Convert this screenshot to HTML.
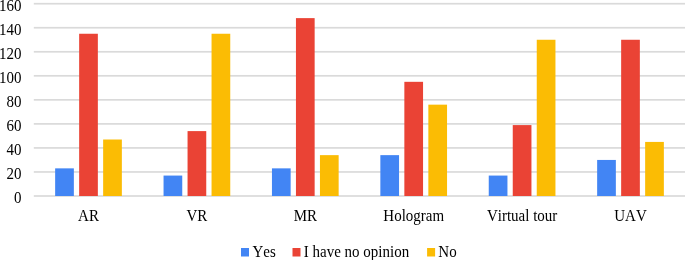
<!DOCTYPE html>
<html><head><meta charset="utf-8"><style>
html,body{margin:0;padding:0;background:#fff;width:685px;height:260px;overflow:hidden}
svg{display:block;will-change:transform}
text{font-family:"Liberation Serif",serif;font-size:15px;fill:#000;font-kerning:none}
</style></head><body>
<svg width="685" height="260" viewBox="0 0 685 260">
<rect x="33.80" y="2.85" width="651.20" height="1.7" fill="#dadada"/>
<text transform="translate(21.60,11.00) scale(1,1.15)" text-anchor="end">160</text>
<rect x="33.80" y="26.89" width="651.20" height="1.7" fill="#dadada"/>
<text transform="translate(21.60,35.04) scale(1,1.15)" text-anchor="end">140</text>
<rect x="33.80" y="50.93" width="651.20" height="1.7" fill="#dadada"/>
<text transform="translate(21.60,59.08) scale(1,1.15)" text-anchor="end">120</text>
<rect x="33.80" y="74.96" width="651.20" height="1.7" fill="#dadada"/>
<text transform="translate(21.60,83.11) scale(1,1.15)" text-anchor="end">100</text>
<rect x="33.80" y="99.00" width="651.20" height="1.7" fill="#dadada"/>
<text transform="translate(21.60,107.15) scale(1,1.15)" text-anchor="end">80</text>
<rect x="33.80" y="123.04" width="651.20" height="1.7" fill="#dadada"/>
<text transform="translate(21.60,131.19) scale(1,1.15)" text-anchor="end">60</text>
<rect x="33.80" y="147.08" width="651.20" height="1.7" fill="#dadada"/>
<text transform="translate(21.60,155.23) scale(1,1.15)" text-anchor="end">40</text>
<rect x="33.80" y="171.11" width="651.20" height="1.7" fill="#dadada"/>
<text transform="translate(21.60,179.26) scale(1,1.15)" text-anchor="end">20</text>
<rect x="33.80" y="195.15" width="651.20" height="1.7" fill="#dadada"/>
<text transform="translate(21.60,203.30) scale(1,1.15)" text-anchor="end">0</text>
<rect x="55.15" y="168.36" width="18.7" height="27.64" fill="#4285f4"/>
<rect x="79.15" y="33.75" width="18.7" height="162.25" fill="#ea4335"/>
<rect x="103.15" y="139.51" width="18.7" height="56.49" fill="#fbbc04"/>
<text transform="translate(88.50,220.80) scale(1,1.15)" text-anchor="middle">AR</text>
<rect x="163.55" y="175.57" width="18.7" height="20.43" fill="#4285f4"/>
<rect x="187.55" y="131.10" width="18.7" height="64.90" fill="#ea4335"/>
<rect x="211.55" y="33.75" width="18.7" height="162.25" fill="#fbbc04"/>
<text transform="translate(196.90,220.80) scale(1,1.15)" text-anchor="middle">VR</text>
<rect x="271.95" y="168.36" width="18.7" height="27.64" fill="#4285f4"/>
<rect x="295.95" y="18.12" width="18.7" height="177.88" fill="#ea4335"/>
<rect x="319.95" y="155.14" width="18.7" height="40.86" fill="#fbbc04"/>
<text transform="translate(305.30,220.80) scale(1,1.15)" text-anchor="middle">MR</text>
<rect x="380.35" y="155.14" width="18.7" height="40.86" fill="#4285f4"/>
<rect x="404.35" y="81.82" width="18.7" height="114.18" fill="#ea4335"/>
<rect x="428.35" y="104.66" width="18.7" height="91.34" fill="#fbbc04"/>
<text transform="translate(413.70,220.80) scale(1,1.15)" text-anchor="middle">Hologram</text>
<rect x="488.75" y="175.57" width="18.7" height="20.43" fill="#4285f4"/>
<rect x="512.75" y="125.09" width="18.7" height="70.91" fill="#ea4335"/>
<rect x="536.75" y="39.76" width="18.7" height="156.24" fill="#fbbc04"/>
<text transform="translate(522.10,220.80) scale(1,1.15)" text-anchor="middle">Virtual tour</text>
<rect x="597.15" y="159.94" width="18.7" height="36.06" fill="#4285f4"/>
<rect x="621.15" y="39.76" width="18.7" height="156.24" fill="#ea4335"/>
<rect x="645.15" y="141.92" width="18.7" height="54.08" fill="#fbbc04"/>
<text transform="translate(630.50,220.80) scale(1,1.15)" text-anchor="middle">UAV</text>
<rect x="241" y="248" width="8" height="8.5" fill="#4285f4"/>
<text transform="translate(252.40,256.90) scale(1,1.15)">Yes</text>
<rect x="292.5" y="248" width="8" height="8.5" fill="#ea4335"/>
<text transform="translate(303.80,256.90) scale(1,1.15)">I have no opinion</text>
<rect x="427.1" y="248" width="8" height="8.5" fill="#fbbc04"/>
<text transform="translate(438.30,256.90) scale(1,1.15)">No</text>
</svg>
</body></html>
